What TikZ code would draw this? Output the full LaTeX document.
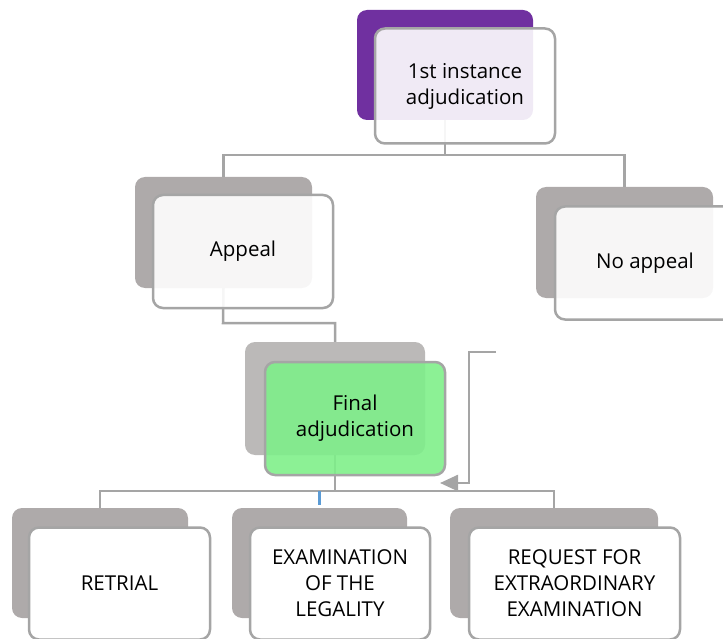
\documentclass[tikz,border=0pt]{standalone}
\usepackage{fontspec}
\setmainfont{Open Sans}
\usetikzlibrary{arrows.meta}
\definecolor{linegray}{HTML}{A5A5A5}
\definecolor{backgray}{HTML}{AEAAAA}
\definecolor{backgray2}{HTML}{BBB9B8}
\definecolor{topviolet}{HTML}{7030A0}
\definecolor{finalgreen}{HTML}{7FEF8A}
\definecolor{tickblue}{HTML}{5B9BD5}
\tikzset{
  back/.style={rounded corners=10pt, inner sep=0pt, draw=none, minimum width=176pt, minimum height=110pt},
  front/.style={rounded corners=10pt, draw=linegray, line width=2.5pt, fill=white, fill opacity=0.9, text opacity=1,
    align=center, inner sep=0pt, minimum width=180pt, minimum height=113pt,
    font=\fontsize{20.5pt}{26pt}\selectfont},
  leaf/.style={front, fill opacity=1, minimum width=181pt, minimum height=112pt},
  conn/.style={draw=linegray, line width=2.5pt},
}
\begin{document}
\begin{tikzpicture}[x=1pt,y=-1pt]
\useasboundingbox (0,0) rectangle (723,639);
% back shapes
\node[back, fill=topviolet] (topb) at (445,65) {};
\node[back, fill=backgray, minimum width=177pt, minimum height=111pt] (appb) at (223.5,232.5) {};
\node[back, fill=backgray, minimum width=177pt, minimum height=111pt] (noab) at (624.5,242.5) {};
\node[back, fill=backgray2, minimum width=180pt, minimum height=113pt] (finb) at (335,398.5) {};
\node[back, fill=backgray] (retb) at (100,563) {};
\node[back, fill=backgray, minimum width=175pt] (exab) at (319.5,563) {};
\node[back, fill=backgray, minimum width=208pt] (reqb) at (554,563) {};
% connectors
\coordinate (bus1) at (445,155);
\coordinate (bus2) at (223,323);
\coordinate (bus3) at (335,491);
\draw[conn] (topb.south) -- (bus1) -| (appb.north);
\draw[conn] (bus1) -| (noab.north);
\draw[conn] (appb.south) -- (bus2) -| (finb.north);
\draw[conn] (finb.south) -- (bus3) -| (retb.north);
\draw[conn] (bus3) -| (reqb.north);
\draw[draw=tickblue, line width=2.5pt] (bus3 -| exab.north) -- ++(0,14);
\coordinate (brs) at (496,352);
\coordinate (bre) at (440,483);
\draw[conn, -{Triangle[length=18pt,width=16pt]}] (brs) -- (469,352) -- (469,483) -- (bre);
% front shapes
\node[front, minimum height=115pt] (topf) at (465,86) {1st instance\\adjudication};
\node[front] (appf) at (243,251.5) {Appeal};
\node[front] (noaf) at (645,263) {No appeal};
\node[front, fill=finalgreen, fill opacity=0.9] (finf) at (355,418.5) {Final\\adjudication};
\node[leaf] (retf) at (119.5,583.5) {RETRIAL};
\node[leaf, minimum width=180pt] (exaf) at (340,583.5) {EXAMINATION\\OF THE\\LEGALITY};
\node[leaf, minimum width=211pt] (reqf) at (574.5,583.5) {REQUEST FOR\\EXTRAORDINARY\\EXAMINATION};
\end{tikzpicture}
\end{document}
